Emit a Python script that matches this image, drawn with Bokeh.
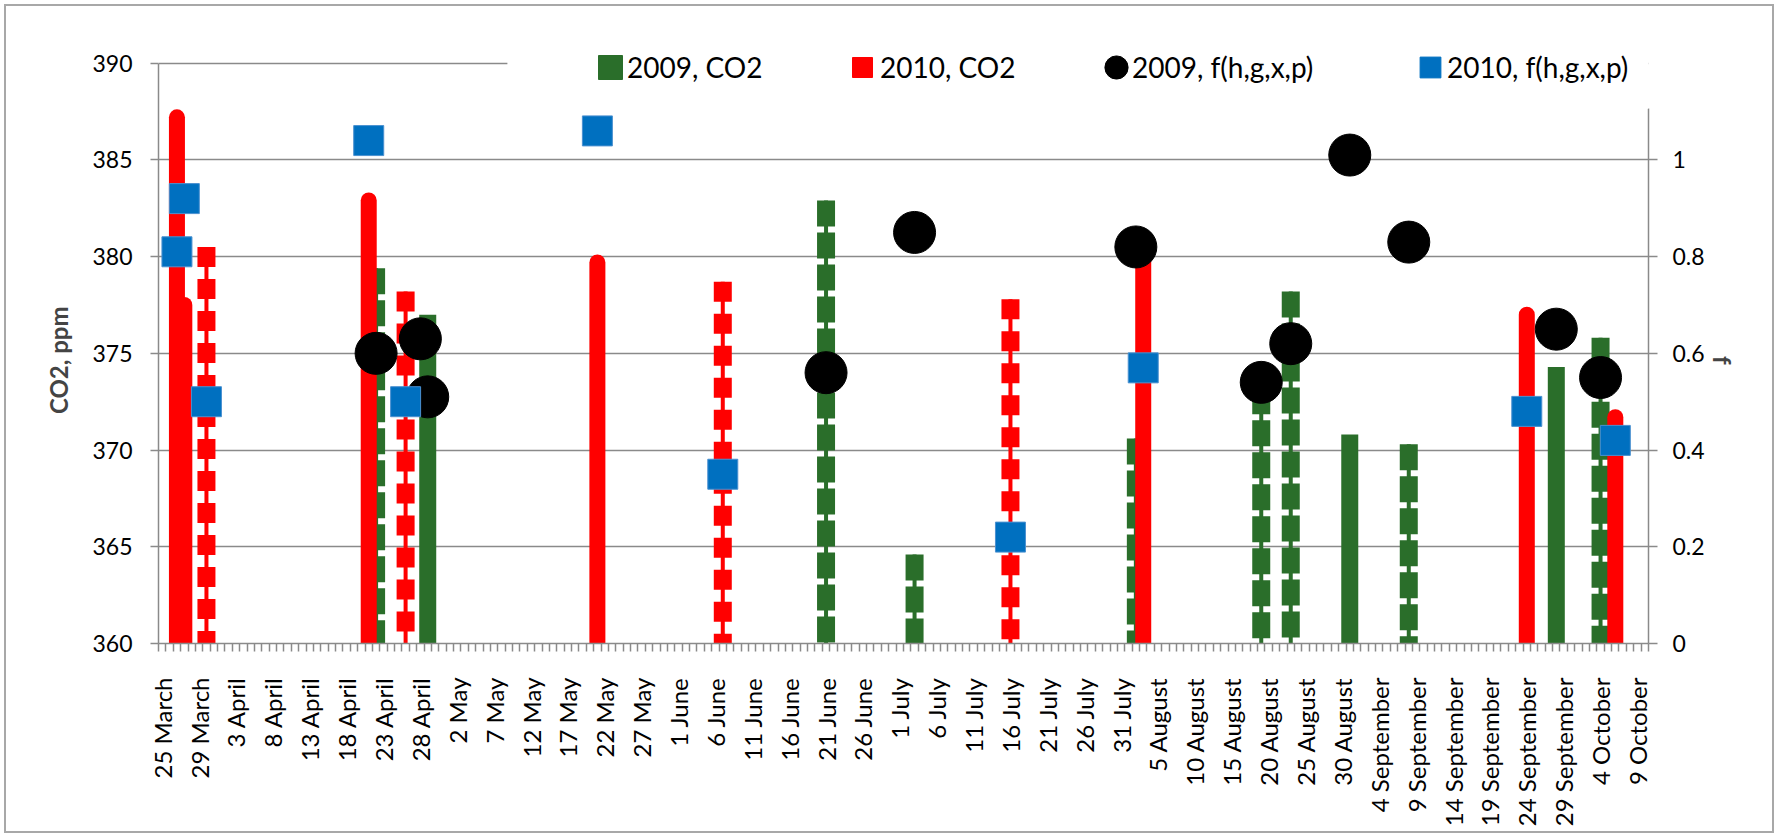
import math
from bokeh.plotting import figure
from bokeh.models import (Range1d, LinearAxis, FixedTicker, NumeralTickFormatter,
                          Legend, LegendItem, BoxAnnotation, ColumnDataSource)
from bokeh.embed import file_html
from bokeh.resources import INLINE

# ---------------- data ----------------
N_CATEGORIES = 202          # daily categories on the x axis
LABEL_STEP = 5
tick_labels = ["25 March", "29 March", "3 April", "8 April", "13 April", "18 April",
               "23 April", "28 April", "2 May", "7 May", "12 May", "17 May", "22 May",
               "27 May", "1 June", "6 June", "11 June", "16 June", "21 June", "26 June",
               "1 July", "6 July", "11 July", "16 July", "21 July", "26 July", "31 July",
               "5 August", "10 August", "15 August", "20 August", "25 August", "30 August",
               "4 September", "9 September", "14 September", "19 September",
               "24 September", "29 September", "4 October", "9 October"]

CO2_BASE = 360
CO2_TICKS = [360, 365, 370, 375, 380, 385, 390]
F_TICKS = [0, 0.2, 0.4, 0.6, 0.8, 1.0]
# 2010, CO2 (red)
co2_2010_solid_idx = [2, 3, 28, 59, 133, 185, 197]
co2_2010_solid_val = [387.2, 377.5, 382.9, 379.7, 380.0, 377.0, 371.7]
co2_2010_dash_idx = [6, 33, 76, 115]
co2_2010_dash_val = [380.5, 378.2, 378.7, 377.8]
# 2009, CO2 (green)
co2_2009_solid_idx = [36, 161, 189]
co2_2009_solid_val = [377.0, 370.8, 374.3]
co2_2009_dash_idx = [29, 90, 102, 132, 149, 153, 169, 195]
co2_2009_dash_val = [379.4, 382.9, 364.6, 370.6, 373.2, 378.2, 370.3, 375.8]
# f(h,g,x,p)
f_2009_idx = [29, 35, 36, 90, 102, 132, 149, 153, 161, 169, 189, 195]
f_2009_val = [0.60, 0.63, 0.51, 0.56, 0.85, 0.82, 0.54, 0.62, 1.01, 0.83, 0.65, 0.55]
f_2010_idx = [2, 3, 6, 28, 33, 59, 76, 115, 133, 185, 197]
f_2010_val = [0.81, 0.92, 0.50, 1.04, 0.50, 1.06, 0.35, 0.22, 0.57, 0.48, 0.42]

legend_labels = ["2009, CO2", "2010, CO2", "2009, f(h,g,x,p)", "2010, f(h,g,x,p)"]

# ---------------- style ----------------
GREEN = "#2a6e2a"
RED = "#ff0000"
BLUE = "#0070c0"
BLACK = "#000000"
GRID = "#8a8a8a"
FONT = "Lato"
NBSP = "\u00a0"

Y_TOP = 392                      # room above the 390 line for the legend
F_PER_PPM = 1.0 / 25.0           # right axis: 0..1 spans 360..385
F_TOP = (Y_TOP - CO2_BASE) * F_PER_PPM

p = figure(width=1770, height=829,
           x_range=Range1d(-0.5, N_CATEGORIES - 0.5),
           y_range=Range1d(CO2_BASE, Y_TOP),
           output_backend="svg", toolbar_location=None,
           min_border_left=152, min_border_right=128,
           min_border_top=18, min_border_bottom=192)
p.styles = {"border": "2px solid #a8a8a8", "margin-left": "4px", "margin-top": "4px"}
p.extra_y_ranges = {"f": Range1d(0, F_TOP)}
p.outline_line_color = None
p.background_fill_color = "white"
p.border_fill_color = "white"

# grid
p.xgrid.visible = False
p.ygrid.grid_line_color = GRID
p.ygrid.grid_line_width = 1.5
p.ygrid.ticker = FixedTicker(ticks=CO2_TICKS)

# left axis
yax = p.yaxis[0]
yax.bounds = (CO2_TICKS[0], CO2_TICKS[-1])
yax.ticker = FixedTicker(ticks=CO2_TICKS)
yax.axis_line_color = GRID
yax.axis_line_width = 1.5
yax.major_tick_line_color = GRID
yax.major_tick_line_width = 1.5
yax.major_tick_out = 8
yax.major_tick_in = 0
yax.minor_tick_line_color = None
yax.major_label_standoff = 18
yax.major_label_text_font = FONT
yax.major_label_text_font_size = "23px"
yax.major_label_text_color = "black"
# trailing no-break spaces keep the title centred on the 360-390 span
yax.axis_label = "CO2, ppm" + NBSP * 9
yax.axis_label_text_font = FONT
yax.axis_label_text_font_style = "bold"
yax.axis_label_text_font_size = "24px"
yax.axis_label_standoff = 16

# right axis
rax = LinearAxis(y_range_name="f", bounds=(0, 1.106))
rax.ticker = FixedTicker(ticks=F_TICKS)
rax.formatter = NumeralTickFormatter(format="0.[0]")
rax.axis_line_color = GRID
rax.axis_line_width = 1.5
rax.major_tick_line_color = GRID
rax.major_tick_line_width = 1.5
rax.major_tick_out = 9
rax.major_tick_in = 0
rax.minor_tick_line_color = None
rax.major_label_standoff = 15
rax.major_label_text_font = FONT
rax.major_label_text_font_size = "23px"
rax.major_label_text_color = "black"
# leading no-break spaces keep the title centred on the 360-390 span
rax.axis_label = NBSP * 9 + "f"
rax.axis_label_text_font = FONT
rax.axis_label_text_font_style = "bold"
rax.axis_label_text_font_size = "24px"
rax.axis_label_standoff = 0
rax.axis_label_orientation = "vertical"
p.add_layout(rax, "right")

# bottom axis
xax = p.xaxis[0]
major = list(range(0, N_CATEGORIES, LABEL_STEP))
xax.ticker = FixedTicker(ticks=major, minor_ticks=[i - 0.5 for i in range(N_CATEGORIES + 1)])
xax.major_label_overrides = {t: lab for t, lab in zip(major, tick_labels)}
xax.major_label_orientation = math.pi / 2
xax.axis_line_color = GRID
xax.axis_line_width = 1.5
xax.major_tick_out = 0
xax.major_tick_in = 0
xax.minor_tick_out = 8
xax.minor_tick_in = 0
xax.minor_tick_line_color = GRID
xax.minor_tick_line_width = 1.5
xax.major_label_standoff = 26
xax.major_label_text_font = FONT
xax.major_label_text_font_size = "24px"
xax.major_label_text_color = "black"


def bar_source(idx, val):
    return ColumnDataSource(dict(x=idx, top=val, base=[CO2_BASE] * len(idx)))


# 2009 CO2 (green) bars
src = bar_source(co2_2009_solid_idx, co2_2009_solid_val)
p.segment(x0="x", y0="top", x1="x", y1="base", source=src, line_color=GREEN,
          line_width=17, line_cap="butt")
src = bar_source(co2_2009_dash_idx, co2_2009_dash_val)
p.segment(x0="x", y0="top", x1="x", y1="base", source=src, line_color=GREEN,
          line_width=4, line_cap="butt")
p.segment(x0="x", y0="top", x1="x", y1="base", source=src, line_color=GREEN,
          line_width=18, line_cap="butt", line_dash="26 6")

# 2010 CO2 (red) bars
src = bar_source(co2_2010_solid_idx, co2_2010_solid_val)
p.segment(x0="x", y0="top", x1="x", y1="base", source=src, line_color=RED,
          line_width=16, line_cap="round")
src = bar_source(co2_2010_dash_idx, co2_2010_dash_val)
p.segment(x0="x", y0="top", x1="x", y1="base", source=src, line_color=RED,
          line_width=4, line_cap="butt")
p.segment(x0="x", y0="top", x1="x", y1="base", source=src, line_color=RED,
          line_width=18, line_cap="butt", line_dash="20 12")

# f markers
r_f09 = p.scatter(x=f_2009_idx, y=f_2009_val, y_range_name="f", marker="circle",
                  size=42, fill_color=BLACK, line_color=BLACK)
r_f10 = p.scatter(x=f_2010_idx, y=f_2010_val, y_range_name="f", marker="square",
                  size=30, fill_color=BLUE, line_color="#4a90d0", line_width=1)

# legend background (white box hiding the top gridline behind the legend)
p.add_layout(BoxAnnotation(left=46.8, right=N_CATEGORIES - 0.5, bottom=387.65, top=Y_TOP,
                           fill_color="white", fill_alpha=1.0, line_alpha=0))


# legend keys (hidden one-point renderers used only for the legend swatches)
def key(marker, color, alpha=1.0):
    r = p.scatter(x=f_2009_idx[:1], y=f_2009_val[:1], y_range_name="f", marker=marker,
                  size=22, fill_color=color, line_color=color,
                  fill_alpha=alpha, line_alpha=alpha)
    r.visible = False
    return r


k_g = key("square", GREEN)
k_r = key("square", RED)
k_b = key("circle", BLACK)
k_u = key("square", BLUE)
k_none = key("square", "white", alpha=0.0)

LEG_Y = 67          # legend row centre, px from top of the page
FRAME_BOTTOM = 643  # px from top of the page
FRAME_LEFT = 158


def leg_common(**kw):
    base = dict(orientation="horizontal", padding=0, margin=0, spacing=0,
                border_line_alpha=0, background_fill_alpha=0,
                label_text_font=FONT, label_text_font_size="28px",
                label_text_color="black")
    base.update(kw)
    return base


# swatches: (renderer, centre x px, glyph box size -> swatch = 0.4 * box)
for rend, cx, g in [(k_g, 610, 60), (k_r, 862, 50), (k_b, 1116, 58), (k_u, 1430, 52)]:
    leg = Legend(items=[LegendItem(label=NBSP, renderers=[rend])],
                 location=(cx - g / 2 - FRAME_LEFT, FRAME_BOTTOM - (LEG_Y + g / 2)),
                 **leg_common(glyph_width=g, glyph_height=g, label_standoff=0,
                              label_width=1, label_text_font_size="8px"))
    p.add_layout(leg, "center")

# texts
for label, tx in zip(legend_labels, [627, 880, 1132, 1447]):
    leg = Legend(items=[LegendItem(label=label, renderers=[k_none])],
                 location=(tx - 1 - FRAME_LEFT, FRAME_BOTTOM - (LEG_Y + 20)),
                 **leg_common(glyph_width=1, glyph_height=40, label_height=40,
                              label_standoff=0))
    p.add_layout(leg, "center")

open("out.html", "w").write(file_html(p, INLINE))
